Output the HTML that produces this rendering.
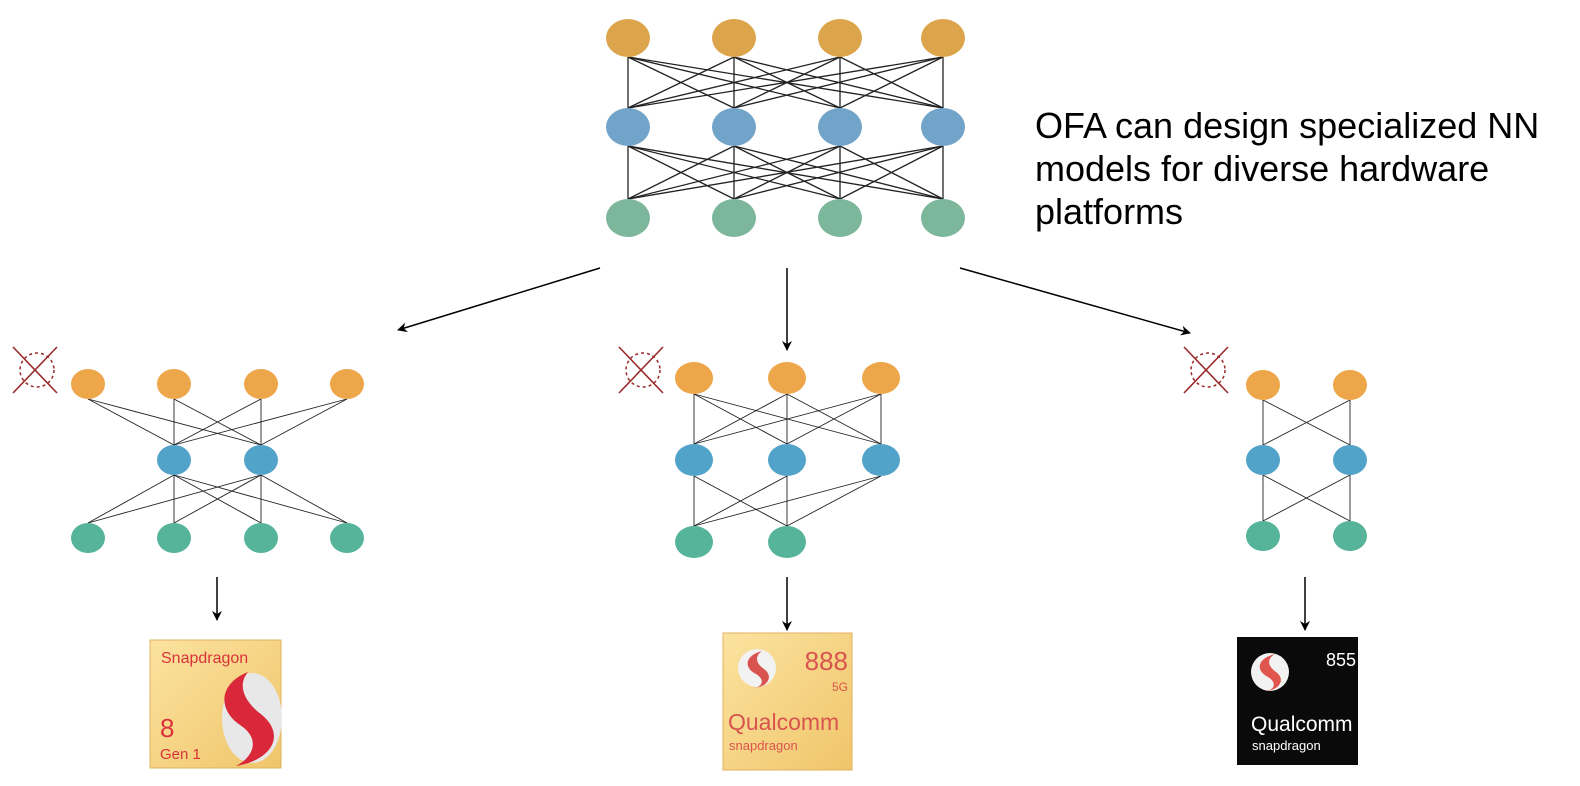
<!DOCTYPE html>
<html><head><meta charset="utf-8"><style>
body{margin:0;background:#fff;}
.t{position:absolute;left:1035px;top:104px;font-family:"Liberation Sans",sans-serif;font-size:36px;line-height:43px;color:#000;white-space:nowrap;}
</style></head><body>
<svg width="1580" height="786" style="position:absolute;left:0;top:0" xmlns="http://www.w3.org/2000/svg">
<defs>
<marker id="a" markerWidth="10" markerHeight="10" refX="9" refY="5" orient="auto" markerUnits="userSpaceOnUse"><path d="M0,0 L10,5 L0,10 L3,5 z" fill="#000"/></marker>
<linearGradient id="g" x1="0" y1="0" x2="1" y2="1"><stop offset="0" stop-color="#fbe3a0"/><stop offset="1" stop-color="#f0c56a"/></linearGradient>
</defs>
<g stroke="#000" stroke-width="1.5" fill="none">
<line x1="600" y1="268" x2="398" y2="330" marker-end="url(#a)"/>
<line x1="787" y1="268" x2="787" y2="350" marker-end="url(#a)"/>
<line x1="960" y1="268" x2="1190" y2="333" marker-end="url(#a)"/>
<line x1="217" y1="577" x2="217" y2="620" marker-end="url(#a)"/>
<line x1="787" y1="577" x2="787" y2="630" marker-end="url(#a)"/>
<line x1="1305" y1="577" x2="1305" y2="630" marker-end="url(#a)"/>
</g>
<!-- chips -->
<rect x="150" y="640" width="131" height="128" fill="url(#g)" stroke="#e2b060"/>
<text x="161" y="663" font-family="Liberation Sans,sans-serif" font-size="16" fill="#d9323a">Snapdragon</text>
<text x="160" y="737" font-family="Liberation Sans,sans-serif" font-size="26" fill="#d9323a">8</text>
<text x="160" y="759" font-family="Liberation Sans,sans-serif" font-size="15" fill="#d9323a">Gen 1</text>
<ellipse cx="252" cy="718" rx="30" ry="45" fill="#e8e8e8"/>
<path d="M248,672 C218,684 218,710 240,725 C260,738 255,756 236,766 C272,760 286,735 262,715 C242,700 238,684 248,672 z" fill="#d8283a"/>
<rect x="723" y="633" width="129" height="137" fill="url(#g)" stroke="#e2b060"/>
<circle cx="757" cy="668" r="19" fill="#f2f2f2"/>
<path d="M762,651 C744,656 744,668 756,674 C766,680 762,688 752,688 C768,688 774,676 764,669 C754,662 756,655 762,651 z" fill="#d9534f"/>
<text x="848" y="670" text-anchor="end" font-family="Liberation Sans,sans-serif" font-size="26" fill="#d9534f">888</text>
<text x="848" y="691" text-anchor="end" font-family="Liberation Sans,sans-serif" font-size="12" fill="#d9534f">5G</text>
<text x="728" y="730" font-family="Liberation Sans,sans-serif" font-size="23" fill="#d9534f">Qualcomm</text>
<text x="729" y="750" font-family="Liberation Sans,sans-serif" font-size="13" fill="#d9534f">snapdragon</text>
<rect x="1237" y="637" width="121" height="128" fill="#0a0a0a"/>
<circle cx="1270" cy="672" r="19" fill="#f2f2f2"/>
<path d="M1275,654 C1256,659 1256,671 1268,677 C1278,683 1274,691 1264,691 C1280,691 1286,679 1276,672 C1266,665 1268,658 1275,654 z" fill="#e0564f"/>
<text x="1356" y="666" text-anchor="end" font-family="Liberation Sans,sans-serif" font-size="18" fill="#fff">855</text>
<text x="1251" y="731" font-family="Liberation Sans,sans-serif" font-size="21" fill="#fff">Qualcomm</text>
<text x="1252" y="750" font-family="Liberation Sans,sans-serif" font-size="13" fill="#fff">snapdragon</text>
</svg>
<div class="t">OFA can design specialized NN<br>models for diverse hardware<br>platforms</div>
<script>
var NS="http://www.w3.org/2000/svg",svg=document.querySelector('svg');
function el(t,a){var e=document.createElementNS(NS,t);for(var k in a)e.setAttribute(k,a[k]);svg.appendChild(e);return e;}
function net(layers,rx,ry,sw){
 for(var i=0;i<layers.length-1;i++){var A=layers[i],B=layers[i+1];
  A.xs.forEach(function(x1){B.xs.forEach(function(x2){el('line',{x1:x1,y1:A.y+ry,x2:x2,y2:B.y-ry,stroke:'#222','stroke-width':sw});});});}
 layers.forEach(function(L){L.xs.forEach(function(x){el('ellipse',{cx:x,cy:L.y,rx:rx,ry:ry,fill:L.c});});});
}
net([{y:38,xs:[628,734,840,943],c:'#dca54b'},{y:127,xs:[628,734,840,943],c:'#72a3c9'},{y:218,xs:[628,734,840,943],c:'#7cb69b'}],22,19,1.3);
net([{y:384,xs:[88,174,261,347],c:'#eda74a'},{y:460,xs:[174,261],c:'#52a3c9'},{y:538,xs:[88,174,261,347],c:'#56b49a'}],17,15,0.9);
net([{y:378,xs:[694,787,881],c:'#eda74a'},{y:460,xs:[694,787,881],c:'#52a3c9'},{y:542,xs:[694,787],c:'#56b49a'}],19,16,0.9);
net([{y:385,xs:[1263,1350],c:'#eda74a'},{y:460,xs:[1263,1350],c:'#52a3c9'},{y:536,xs:[1263,1350],c:'#56b49a'}],17,15,0.9);
[[35,370],[641,370],[1206,370]].forEach(function(p){var x=p[0],y=p[1];
 el('line',{x1:x-22,y1:y-23,x2:x+22,y2:y+23,stroke:'#9a2a2a','stroke-width':1.6});
 el('line',{x1:x+22,y1:y-23,x2:x-22,y2:y+23,stroke:'#9a2a2a','stroke-width':1.6});
 el('circle',{cx:x+2,cy:y,r:17,fill:'none',stroke:'#9a2a2a','stroke-width':1.5,'stroke-dasharray':'3 3'});
});
</script>
</body></html>
